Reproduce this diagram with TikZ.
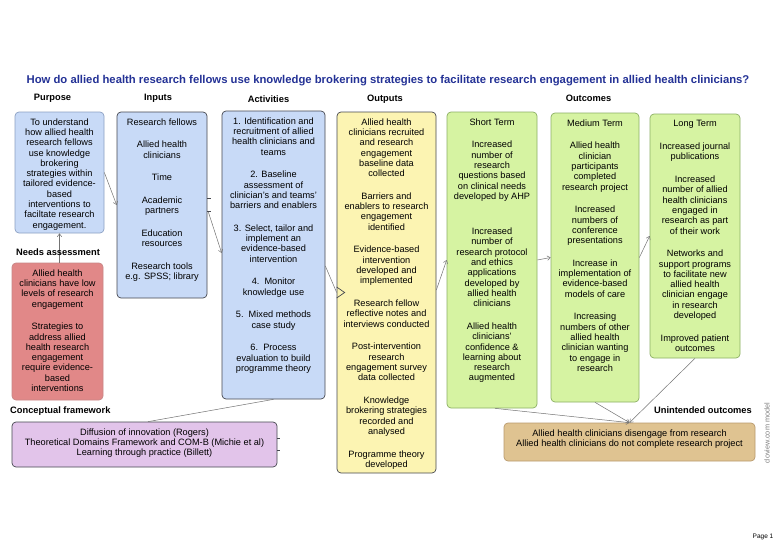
\documentclass[tikz,border=0pt]{standalone}
\usepackage{fontspec}
\setmainfont{Liberation Sans}
\usetikzlibrary{arrows.meta,calc}
\definecolor{titleblue}{RGB}{36,50,150}
\definecolor{lblue}{RGB}{200,218,247}
\definecolor{lblueline}{RGB}{140,160,195}
\definecolor{darkline}{RGB}{70,72,80}
\definecolor{redfill}{RGB}{225,136,136}
\definecolor{redline}{RGB}{200,135,135}
\definecolor{yelfill}{RGB}{252,244,178}
\definecolor{grnfill}{RGB}{214,243,162}
\definecolor{grnline}{RGB}{140,175,100}
\definecolor{tanfill}{RGB}{223,195,145}
\definecolor{tanline}{RGB}{185,155,110}
\definecolor{purfill}{RGB}{226,196,234}
\definecolor{arrgray}{RGB}{115,115,115}
\newcommand\pgp{\\[12.4pt]}
\newcommand\bxt[3]{\parbox[c][#2][t]{#1}{\centering\fontsize{9.2}{10.3}\selectfont\vspace*{6.5pt}#3\par}}
\begin{document}
\begin{tikzpicture}[x=1pt,y=-1pt,
  boxbase/.style={draw,rounded corners=4pt,inner sep=0pt,line width=0.7pt},
  purposebox/.style={boxbase,fill=lblue,draw=lblueline},
  bluebox/.style={boxbase,fill=lblue,draw=darkline},
  redbox/.style={boxbase,fill=redfill,draw=redline},
  yelbox/.style={boxbase,fill=yelfill,draw=darkline},
  grnbox/.style={boxbase,fill=grnfill,draw=grnline},
  tanbox/.style={boxbase,fill=tanfill,draw=tanline},
  purbox/.style={boxbase,fill=purfill,draw=darkline},
  header/.style={font=\fontsize{9.3}{11}\selectfont\bfseries,inner sep=0pt},
  arr/.style={draw=arrgray,line width=0.5pt,-{Straight Barb[length=3pt,width=4.5pt]}},
  plain/.style={draw=arrgray,line width=0.5pt},
  tick/.style={draw=darkline,line width=0.7pt}]
\fill[white] (0,0) rectangle (779,551);
\useasboundingbox (0,0) rectangle (779,551);

\node[font=\fontsize{11.3}{13}\selectfont\bfseries,text=titleblue,inner sep=0pt] (title) at (388,81)
  {How do allied health research fellows use knowledge brokering strategies to facilitate research engagement in allied health clinicians?};

\node[header] (hpurpose) at (52.5,98) {Purpose};
\node[header] (hinputs) at (158,98) {Inputs};
\node[header] (hactivities) at (268.5,99) {Activities};
\node[header] (houtputs) at (385,99) {Outputs};
\node[header] (houtcomes) at (588.5,98) {Outcomes};

\node[purposebox] (purpose) at (59.5,172.5) {\bxt{89pt}{121pt}{To understand\\how allied health\\research fellows\\use knowledge\\brokering\\strategies within\\tailored evidence-\\based\\interventions to\\faciltate research\\engagement.}};

\node[redbox] (needs) at (57.5,331.5) {\bxt{91pt}{137pt}{Allied health\\clinicians have low\\levels of research\\engagement\pgp Strategies to\\address allied\\health research\\engagement\\require evidence-\\based\\interventions}};

\draw[arr] (purpose.south |- needs.north) -- (purpose.south);
\node[header] (hneeds) at (58,252) {Needs assessment};

\node[bluebox] (inputs) at (162,205) {\bxt{90pt}{186pt}{Research fellows\pgp Allied health\\clinicians\pgp Time\pgp Academic\\partners\pgp Education\\resources\pgp Research tools\\e.g. SPSS; library}};

\node[bluebox] (activities) at (273.5,255) {\bxt{103pt}{288pt}{1. Identification and\\recruitment of allied\\health clinicians and\\teams\pgp 2. Baseline\\assessment of\\clinician's and teams'\\barriers and enablers\pgp 3. Select, tailor and\\implement an\\evidence-based\\intervention\pgp 4.\ \ Monitor\\knowledge use\pgp 5.\ \ Mixed methods\\case study\pgp 6.\ \ Process\\evaluation to build\\programme theory}};

\node[yelbox] (outputs) at (386.5,292.5) {\bxt{99pt}{361pt}{Allied health\\clinicians recruited\\and research\\engagement\\baseline data\\collected\pgp Barriers and\\enablers to research\\engagement\\identified\pgp Evidence-based\\intervention\\developed and\\implemented\pgp Research fellow\\reflective notes and\\interviews conducted\pgp Post-intervention\\research\\engagement survey\\data collected\pgp Knowledge\\brokering strategies\\recorded and\\analysed\pgp Programme theory\\developed}};

\node[grnbox] (short) at (492,260) {\bxt{90pt}{296pt}{Short Term\pgp Increased\\number of\\research\\questions based\\on clinical needs\\developed by AHP\\[25pt]Increased\\number of\\research protocol\\and ethics\\applications\\developed by\\allied health\\clinicians\pgp Allied health\\clinicians'\\confidence \&\\learning about\\research\\augmented}};

\node[grnbox] (medium) at (595,257.5) {\bxt{88pt}{289pt}{Medium Term\pgp Allied health\\clinician\\participants\\completed\\research project\pgp Increased\\numbers of\\conference\\presentations\pgp Increase in\\implementation of\\evidence-based\\models of care\pgp Increasing\\numbers of other\\allied health\\clinician wanting\\to engage in\\research}};

\node[grnbox] (long) at (695,236) {\bxt{90pt}{244pt}{Long Term\pgp Increased journal\\publications\pgp Increased\\number of allied\\health clinicians\\engaged in\\research as part\\of their work\pgp Networks and\\support programs\\to facilitate new\\allied health\\clinician engage\\in research\\developed\pgp Improved patient\\outcomes}};

\node[header,anchor=west] (hconcept) at (10,411) {Conceptual framework};
\node[purbox] (concept) at (144.5,444.5) {\bxt{265pt}{45pt}{Diffusion of innovation (Rogers)\\Theoretical Domains Framework and COM-B (Michie et al)\\Learning through practice (Billett)}};

\node[header] (hunint) at (703,410) {Unintended outcomes};
\node[tanbox] (unint) at (629.5,442) {\bxt{251pt}{38pt}{Allied health clinicians disengage from research\\Allied health clinicians do not complete research project}};

% connectors
\draw[arr] (purpose.east) -- (inputs.west);
\draw[tick] ($(inputs.east)+(0,-7)$) -- ++(4,0);
\draw[tick] ($(inputs.east)+(0,6)$) -- ++(4,0);
\draw[arr] ($(inputs.east)+(1,7)$) -- ($(activities.west)+(0,-2)$);
\draw[plain] ($(activities.east)+(0,11)$) -- (outputs.west);
\draw[draw=darkline,line width=0.7pt] ($(outputs.west)+(0,-5.5)$) -- ++(8,5.5) -- ++(-8,5.5);
\draw[arr] ($(outputs.east)+(0,-2.5)$) -- (short.west);
\draw[arr] (short.east) -- (medium.west);
\draw[arr] (medium.east) -- (long.west);
\draw[arr] ($(short.south)+(3,0)$) -- (unint.north);
\draw[arr] (medium.south) -- (unint.north);
\draw[arr] (long.south) -- (unint.north);
\draw[plain] ($(concept.north)+(3.5,0)$) -- (activities.south);
\draw[tick] ($(concept.east)+(0,-6.5)$) -- ++(3,0);
\draw[tick] ($(concept.east)+(0,5.5)$) -- ++(3,0);

\node[rotate=90,text=gray,font=\fontsize{7.3}{9}\selectfont,inner sep=0pt] (doview) at (767,433) {doview.com model};
\node[font=\fontsize{6.5}{8}\selectfont,inner sep=0pt] (page) at (763,537) {Page 1};
\end{tikzpicture}
\end{document}
